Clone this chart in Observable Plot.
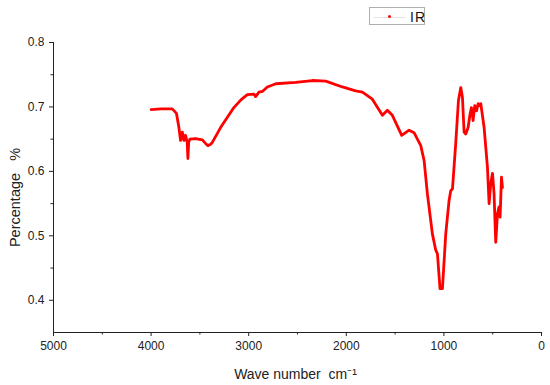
<!DOCTYPE html>
<html>
<head>
<meta charset="utf-8">
<script src="https://cdn.jsdelivr.net/npm/d3@7"></script>
<script src="https://cdn.jsdelivr.net/npm/@observablehq/plot@0.6"></script>
<style>
  html, body { margin: 0; padding: 0; background: #fff; }
  #wrap { position: relative; width: 550px; height: 385px; font-family: "Liberation Sans", Arial, sans-serif; }
  #legend { position: absolute; left: 369px; top: 7px; width: 56px; height: 18px; border: 1px solid #b0b0b0; background: #fff; box-sizing: border-box; }
  #legend .ln { position: absolute; left: 4px; top: 9px; width: 32px; height: 0; border-top: 1px solid #e4e4e4; }
  #legend .dt { position: absolute; left: 18px; top: 7px; width: 3px; height: 3px; background: #ff0000; border-radius: 50%; }
  #legend .tx { position: absolute; left: 40px; top: 0px; font-size: 14px; line-height: 18px; letter-spacing: 1px; color: #111; }
</style>
</head>
<body>
<div id="wrap">
  <div id="chart"></div>
  <div id="legend"><div class="ln"></div><div class="dt"></div><div class="tx">IR</div></div>
</div>
<script>
const wavenumber = [4000,3900,3783,3740,3715,3698,3680,3664,3647,3630,3623,3615,3603,3544,3475,3440,3418,3390,3373,3288,3152,3080,3014,2947,2929,2895,2860,2809,2722,2519,2348,2211,2040,1904,1835,1733,1630,1579,1528,1432,1357,1306,1237,1203,1169,1118,1084,1066,1040,1015,981,947,930,912,879,851,827,810,793,776,752,732,718,701,684,666,649,633,622,588,554,537,520,502,486,469,451,435,424,410,400];
const transmittance = [0.696,0.697,0.697,0.690,0.668,0.648,0.661,0.648,0.656,0.645,0.620,0.645,0.650,0.651,0.649,0.643,0.640,0.642,0.645,0.668,0.699,0.711,0.719,0.720,0.716,0.723,0.724,0.731,0.736,0.738,0.741,0.740,0.731,0.725,0.723,0.712,0.687,0.695,0.687,0.656,0.664,0.660,0.640,0.617,0.565,0.503,0.478,0.472,0.418,0.418,0.503,0.555,0.570,0.573,0.643,0.710,0.730,0.715,0.661,0.658,0.668,0.689,0.699,0.679,0.702,0.694,0.705,0.702,0.705,0.668,0.607,0.550,0.581,0.597,0.565,0.490,0.534,0.545,0.529,0.591,0.575];
const xTicks = [5000,4000,3000,2000,1000,0];
const xMinor = [4500,3500,2500,1500,500];
const yTicks = [0.4,0.5,0.6,0.7,0.8];
const yMinor = [0.45,0.55,0.65,0.75];
const seriesName = "IR";

const data = wavenumber.map((w, i) => ({w, t: transmittance[i]}));

const plot = Plot.plot({
  width: 550,
  height: 385,
  marginLeft: 53,
  marginRight: 9,
  marginTop: 42,
  marginBottom: 53,
  style: {fontFamily: "Liberation Sans, Arial, sans-serif", fontSize: "12px", color: "#222", background: "#fff"},
  x: {domain: [5000, 0], label: null},
  y: {domain: [0.35, 0.8], label: null},
  marks: [
    Plot.ruleY([0.35], {stroke: "#222", strokeWidth: 1}),
    Plot.ruleX([5000], {stroke: "#222", strokeWidth: 1}),
    Plot.axisX(xMinor, {tickSize: 2.5, tickFormat: () => "", stroke: "#222", label: null}),
    Plot.axisX(xTicks, {tickSize: 4, tickPadding: 5, tickFormat: d => String(d), fontSize: 12, stroke: "#222", label: null}),
    Plot.axisY(yMinor, {tickSize: 2.5, tickFormat: () => "", stroke: "#222", label: null}),
    Plot.axisY(yTicks, {tickSize: 4, tickPadding: 5, tickFormat: d => d.toFixed(1), fontSize: 12, stroke: "#222", label: null}),
    Plot.line(data, {x: "w", y: "t", stroke: "#ff0000", strokeWidth: 2.8, curve: "linear"}),
    Plot.text(["Wave number  cm\u207B\u00B9"], {frameAnchor: "bottom", dy: 46, dx: -2, fontSize: 14, fill: "#222"}),
    Plot.text(["Percentage   %"], {frameAnchor: "left", textAnchor: "middle", dx: -38, dy: 10, rotate: -90, fontSize: 14.5, fill: "#222"})
  ]
});
document.getElementById("chart").appendChild(plot);
</script>
</body>
</html>
